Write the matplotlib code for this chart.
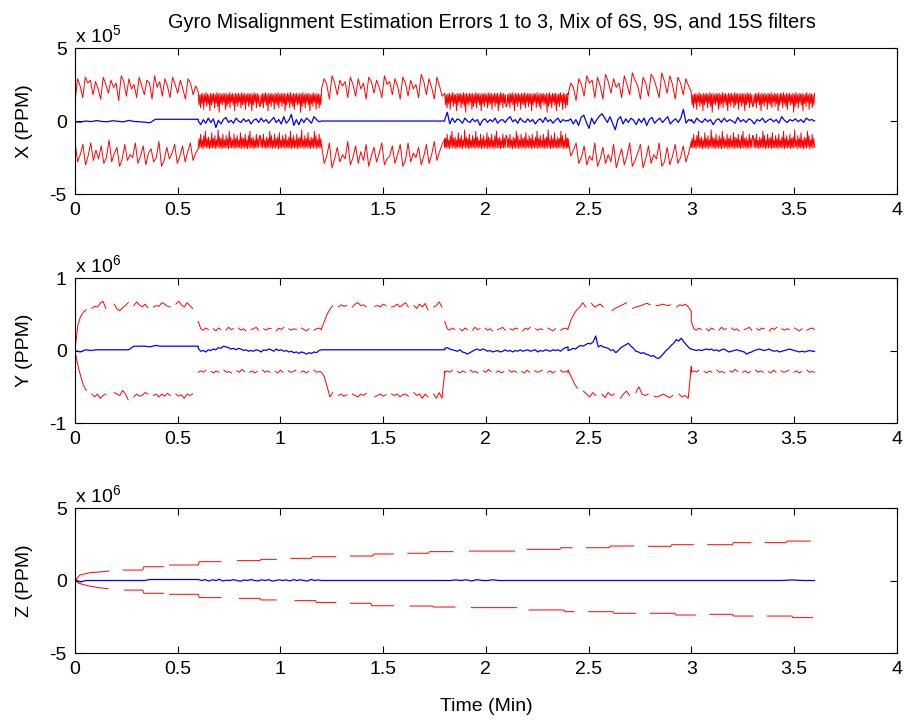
import numpy as np
import matplotlib
matplotlib.use('Agg')
import matplotlib.pyplot as plt

nan = np.nan

# segment edges (min): filters switch every 0.6 min
seg_edges = [0.0, 0.6, 1.2, 1.8, 2.4, 3.0, 3.6]

# ---------------- X axis error, units of 1e5 PPM ----------------
x_saw_up_a = [1.3, 2.9, 2.4, 1.6, 3.0, 2.6, 2.8, 1.8, 2.7, 2.2, 1.5, 3.0, 2.5, 1.9, 2.8, 2.3, 2.6,
              1.4, 3.1, 2.7, 1.7, 2.9, 2.2, 2.5, 1.6, 3.0, 2.4, 1.8, 2.8, 2.6, 1.5, 3.1, 2.3, 2.7,
              1.7, 2.9, 2.4, 1.6, 3.0, 2.5, 1.9, 2.8, 2.2, 1.5, 2.9, 2.6, 1.8, 2.4, 2.0]
x_saw_lo_a = [-1.4, -2.8, -2.3, -1.6, -3.0, -2.4, -1.5, -2.7, -2.0, -2.6, -1.7, -2.9, -2.5, -1.3,
              -2.8, -2.2, -1.8, -3.1, -2.6, -1.6, -2.7, -2.3, -2.5, -1.5, -2.9, -2.4, -1.7, -3.0,
              -2.2, -1.9, -2.8, -2.5, -1.4, -3.1, -2.7, -1.8, -2.6, -2.2, -1.6, -2.9, -2.4, -1.7,
              -2.8, -2.1, -1.5, -2.7, -2.2, -1.9]
x_saw_up_b = [2.2, 2.9, 2.5, 1.5, 3.1, 2.6, 1.8, 2.8, 2.4, 2.7, 1.6, 3.0, 2.5, 1.7, 2.9, 2.2, 2.6,
              1.5, 3.0, 2.7, 1.9, 2.8, 2.3, 1.6, 3.1, 2.5, 2.7, 1.8, 2.9, 2.4, 1.5, 3.0, 2.6, 1.7,
              2.8, 2.2, 2.5, 1.6, 3.2, 2.7, 1.8, 2.9, 2.3, 1.5, 3.0, 2.4, 1.7, 1.9]
x_saw_lo_b = [-1.6, -2.9, -2.4, -1.5, -3.2, -2.6, -1.8, -2.8, -2.3, -2.6, -1.4, -3.0, -2.5, -1.7,
              -2.9, -2.1, -2.7, -1.6, -3.1, -2.4, -1.8, -2.8, -2.2, -1.5, -3.0, -2.6, -2.4, -1.7,
              -2.9, -2.3, -1.6, -3.1, -2.7, -1.5, -2.8, -2.2, -2.5, -1.8, -3.0, -2.4, -1.6, -2.9,
              -2.3, -1.4, -2.7, -2.1, -1.6, -1.2]
x_saw_up_c = [1.8, 2.6, 2.3, 1.4, 2.9, 2.5, 1.7, 3.1, 2.6, 2.8, 1.6, 3.0, 2.4, 1.5, 3.2, 2.7, 1.9,
              2.9, 2.3, 2.6, 1.6, 3.1, 2.5, 1.8, 3.3, 2.8, 2.4, 1.5, 3.0, 2.6, 1.7, 3.2, 2.9, 2.3,
              1.6, 3.3, 2.7, 1.9, 3.1, 2.5, 1.5, 3.0, 2.6, 1.8, 2.9, 2.4, 2.0]
x_saw_lo_c = [-1.2, -2.4, -2.0, -1.5, -2.9, -2.5, -1.7, -3.0, -2.4, -2.7, -1.5, -3.1, -2.6, -1.8,
              -2.9, -2.3, -2.8, -1.6, -3.2, -2.5, -1.9, -3.0, -2.4, -1.5, -3.1, -2.7, -2.2, -1.6,
              -3.2, -2.6, -1.7, -2.9, -2.3, -2.6, -1.5, -3.1, -2.8, -1.8, -3.0, -2.4, -1.6, -2.9,
              -2.5, -1.7, -2.8, -2.2, -1.4]
x_band_up = [1.9, 1.1, 1.8, 0.9, 1.85, 1.2, 1.9, 0.8, 1.8, 1.3, 1.95, 1.0, 1.85, 1.2, 1.8, 0.7,
             1.9, 1.1, 1.85, 1.3, 1.9, 0.9, 1.8, 1.2, 1.95, 1.0, 1.85, 0.6, 1.9, 1.2, 1.8, 1.1,
             1.9, 1.3, 1.85, 0.8, 1.9, 1.0, 1.8, 1.2, 1.95, 0.9, 1.85, 1.3, 1.9, 1.1, 1.8, 0.7,
             1.9, 1.2, 1.85, 1.0, 1.9, 1.3, 1.8, 0.9, 1.95, 1.1, 1.85, 1.2, 1.9, 0.8, 1.8, 1.3,
             1.9, 1.0, 1.85, 1.2, 1.9, 0.7, 1.8, 1.1, 1.95, 1.3, 1.85, 0.9, 1.9, 1.2, 1.8, 1.0]
x_band_lo = [-1.8, -1.2, -1.85, -0.9, -1.8, -1.3, -1.9, -1.0, -1.75, -0.7, -1.85, -1.2, -1.8,
             -1.1, -1.9, -1.3, -1.8, -0.8, -1.85, -1.2, -1.8, -1.0, -1.9, -1.3, -1.75, -0.6,
             -1.85, -1.1, -1.8, -1.2, -1.9, -0.9, -1.8, -1.3, -1.85, -1.0, -1.8, -1.2, -1.9,
             -0.7, -1.8, -1.1, -1.85, -1.3, -1.8, -0.9, -1.9, -1.2, -1.8, -1.0, -1.85, -1.3,
             -1.8, -0.8, -1.9, -1.1, -1.8, -1.2, -1.85, -0.9, -1.8, -1.3, -1.9, -1.0, -1.8,
             -0.7, -1.85, -1.2, -1.8, -1.1, -1.9, -1.3, -1.8, -0.9, -1.85, -1.2, -1.8, -1.0]
x_est_a = [-0.05, -0.08, 0.0, -0.04, 0.03, -0.03, -0.05, 0.02, -0.02, -0.06, 0.04, -0.03, -0.05,
           -0.08, -0.12, 0.12, 0.12, 0.12, 0.12, 0.12, 0.12, 0.12, 0.12, 0.12]
x_est_b = [0.0, -0.25, 0.1, -0.15, 0.2, -0.1, 0.15, -0.45, 0.05, -0.2, 0.1, 0.25, -0.1, 0.05,
           -0.15, 0.2, 0.0, -0.1, 0.15, -0.05, 0.1, -0.2, 0.05, 0.15, -0.1, 0.2, -0.05, 0.1,
           -0.15, 0.05, 0.25, -0.1, 0.1, -0.2, 0.3, -0.15, 0.05, 0.45, -0.3, 0.1, -0.25, 0.15,
           -0.1, 0.2, 0.05, -0.15, 0.3, 0.1, -0.05, 0.0]
x_est_c = [0.0, 0.0]
x_est_d = [0.1, 0.6, -0.2, 0.2, -0.1, 0.15, 0.05, -0.15, 0.2, 0.0, -0.1, 0.15, -0.05, 0.1, -0.3,
           0.05, 0.15, -0.1, 0.1, -0.05, 0.2, -0.15, 0.05, 0.1, -0.1, 0.15, 0.3, -0.05, 0.1,
           -0.15, 0.2, 0.0, -0.1, 0.15, -0.05, 0.1, -0.2, 0.05, 0.15, -0.1, 0.25, -0.05, 0.1,
           -0.15, 0.05, 0.2, -0.1, 0.1, 0.0, 0.05]
x_est_e = [0.0, 0.15, -0.2, 0.1, -0.3, 0.25, 0.4, -0.1, -0.5, 0.2, -0.2, 0.1, 0.35, 0.5, 0.2,
           -0.1, 0.3, -0.15, -0.6, 0.1, 0.3, -0.2, 0.15, -0.1, 0.2, 0.05, -0.25, 0.15, -0.1, 0.2,
           -0.3, 0.1, 0.25, -0.15, 0.05, 0.2, -0.1, 0.1, 0.3, -0.2, 0.0, 0.15, -0.1, 0.2, 0.8,
           -0.15, 0.1, 0.0]
x_est_f = [0.1, -0.15, 0.2, 0.0, -0.1, 0.15, -0.05, 0.1, -0.25, 0.05, 0.15, -0.1, 0.2, -0.05,
           0.1, 0.0, -0.15, 0.25, -0.05, 0.1, -0.1, 0.15, 0.05, -0.2, 0.1, 0.0, 0.2, -0.1, 0.05,
           0.15, -0.05, 0.1, -0.15, 0.3, 0.05, -0.1, 0.1, 0.0, 0.15, -0.05, 0.1, -0.1, 0.2, 0.05,
           0.1, 0.0]

# ---------------- Y axis error, units of 1e6 PPM (nan = gap) ----------------
y_up_a = [0.0, 0.35, 0.47, 0.53, 0.56, nan, 0.58, 0.61, 0.6, 0.65, 0.68, 0.58, nan, nan, 0.64,
          0.57, 0.55, 0.59, 0.62, 0.66, nan, 0.62, 0.67, 0.63, 0.6, 0.64, 0.59, nan, 0.6, 0.62,
          0.61, 0.66, 0.64, 0.61, 0.6, nan, 0.64, 0.68, 0.63, 0.6, 0.66, 0.62, 0.58, nan, nan]
y_lo_a = [0.0, -0.2, -0.35, -0.48, -0.55, nan, -0.6, -0.64, -0.6, -0.66, -0.62, -0.6, nan, nan,
          -0.58, -0.6, -0.62, -0.55, -0.6, -0.68, nan, -0.64, -0.6, -0.63, -0.62, -0.58, -0.6,
          nan, -0.62, -0.6, -0.64, -0.6, -0.63, -0.59, -0.62, nan, -0.6, -0.63, -0.61, -0.66,
          -0.6, -0.62, -0.6, nan, nan]
y_band_up = [0.4, 0.3, 0.28, 0.31, 0.29, nan, 0.3, 0.27, 0.31, 0.29, nan, 0.28, 0.32, 0.29, 0.3,
             nan, 0.31, 0.28, 0.3, 0.27, nan, 0.29, 0.3, 0.32, 0.28, nan, 0.3, 0.28, 0.31, 0.3,
             nan, 0.27, 0.31, 0.29, 0.32, nan, 0.3, 0.28, 0.3, 0.29, nan, 0.31, 0.29, 0.27, 0.3,
             nan, 0.28, 0.3, 0.31, 0.29]
y_band_lo = [-0.3, -0.28, -0.3, -0.27, nan, -0.29, -0.31, -0.28, -0.3, nan, -0.27, -0.3, -0.29,
             -0.31, nan, -0.28, -0.3, -0.26, -0.29, nan, -0.3, -0.28, -0.31, -0.29, nan, -0.27,
             -0.3, -0.28, -0.3, nan, -0.29, -0.31, -0.27, -0.3, nan, -0.28, -0.3, -0.29, -0.27,
             nan, -0.3, -0.28, -0.31, -0.29, nan, -0.27, -0.3, -0.29, -0.3]
y_up_c = [0.3, 0.4, 0.5, 0.57, 0.62, nan, 0.6, 0.63, 0.61, 0.62, nan, 0.6, 0.64, 0.66, 0.62,
          0.63, 0.6, nan, nan, 0.61, 0.62, 0.6, 0.64, 0.62, nan, 0.6, 0.61, 0.64, 0.6, 0.63,
          0.66, 0.6, nan, 0.62, 0.58, 0.64, 0.6, 0.65, 0.56, nan, 0.6, 0.62, 0.67, 0.6, nan]
y_lo_c = [-0.3, -0.36, -0.5, -0.64, -0.58, nan, -0.62, -0.6, -0.63, -0.61, nan, -0.6, -0.62,
          -0.64, -0.6, -0.62, -0.59, nan, nan, -0.64, -0.62, -0.6, -0.63, -0.61, nan, -0.6,
          -0.62, -0.6, -0.64, -0.61, -0.6, -0.63, nan, -0.58, -0.62, -0.6, -0.66, -0.6, -0.64,
          nan, -0.6, -0.66, -0.58, -0.66, -0.29]
y_up_e = [0.3, 0.42, 0.5, 0.56, 0.6, 0.66, 0.6, nan, 0.65, 0.6, 0.62, 0.64, 0.6, nan, nan, 0.55,
          0.58, 0.6, 0.62, 0.64, 0.66, nan, 0.58, 0.6, 0.61, 0.62, 0.64, 0.65, 0.63, nan, 0.62,
          0.62, 0.64, 0.63, 0.62, 0.63, nan, 0.6, 0.63, 0.62, 0.64, 0.6, 0.54]
y_lo_e = [-0.27, -0.36, -0.45, -0.52, nan, -0.56, -0.6, -0.64, -0.58, -0.62, nan, -0.6, -0.65,
          -0.58, -0.62, -0.6, nan, -0.66, -0.6, -0.56, -0.62, nan, -0.58, -0.5, -0.6, -0.62,
          -0.6, nan, -0.63, -0.64, -0.62, -0.6, -0.63, -0.65, -0.62, nan, -0.6, -0.64, -0.62,
          -0.66, -0.22]
y_est_a = [0.0, -0.02, 0.01, 0.0, 0.01, 0.01, 0.01, 0.01, 0.01, 0.01, 0.01, 0.06, 0.06, 0.06,
           0.05, 0.07, 0.06, 0.06, 0.06, 0.06, 0.06, 0.06, 0.06, 0.06]
y_est_b = [0.03, -0.01, 0.0, -0.02, 0.01, 0.0, 0.02, 0.01, 0.04, 0.03, 0.06, 0.05, 0.04, 0.02,
           0.03, 0.01, 0.03, 0.02, 0.0, 0.01, -0.01, 0.0, -0.01, 0.01, 0.0, -0.02, 0.01, 0.0,
           0.02, 0.01, -0.01, 0.02, 0.0, 0.01, -0.01, 0.0, -0.02, -0.01, -0.03, -0.02, -0.04,
           -0.02, -0.03, -0.05, -0.03, -0.04, -0.02, -0.03, 0.0, 0.01]
y_est_c = [0.01, 0.01]
y_est_d = [0.03, 0.04, 0.02, 0.01, 0.0, -0.01, 0.01, -0.02, -0.03, -0.05, -0.03, -0.01, 0.01,
           0.02, 0.0, 0.02, 0.01, -0.01, 0.0, -0.02, -0.01, 0.0, -0.02, -0.01, 0.01, -0.01, 0.0,
           -0.02, 0.0, -0.01, 0.01, -0.01, 0.0, 0.01, -0.01, 0.0, 0.01, -0.02, 0.0, -0.01, 0.01,
           0.0, -0.01, 0.01, 0.0, 0.01, -0.01, 0.02, 0.04, 0.05]
y_est_e = [0.0, 0.01, 0.03, 0.02, 0.05, 0.07, 0.06, 0.08, 0.1, 0.09, 0.12, 0.2, 0.05, 0.07, 0.05,
           0.04, 0.03, 0.0, 0.01, -0.03, 0.0, 0.04, 0.06, 0.08, 0.1, 0.06, 0.03, -0.01, -0.02,
           -0.04, -0.03, -0.05, -0.06, -0.08, -0.07, -0.1, -0.11, -0.08, -0.04, 0.0, 0.03, 0.07,
           0.1, 0.15, 0.13, 0.17, 0.12, 0.08, 0.04, 0.02]
y_est_f = [0.02, 0.01, 0.0, 0.01, 0.0, 0.01, 0.02, 0.01, 0.02, 0.0, 0.01, -0.01, 0.01, 0.02, 0.0,
           -0.02, -0.01, 0.0, 0.01, 0.0, -0.01, -0.02, -0.05, -0.03, -0.02, 0.0, 0.01, 0.02, 0.01,
           0.0, 0.01, 0.02, 0.0, -0.01, 0.0, -0.02, -0.01, 0.0, 0.01, 0.02, 0.01, 0.0, -0.01,
           -0.02, -0.01, -0.02, -0.01, 0.0, -0.01, -0.01]

# ---------------- Z axis error, units of 1e6 PPM (nan = gap) ----------------
z_up_t = [0, 0.024, 0.073, 0.138, 0.165, nan, 0.235, 0.33, 0.335, 0.43, nan, 0.46, 0.6, 0.605, 0.71,
          nan, 0.79, 0.9, 0.905, 0.98, nan, 1.05, 1.15, 1.155, 1.27, nan, 1.34, 1.45, 1.455, 1.55,
          nan, 1.62, 1.72, 1.725, 1.84, nan, 1.92, 2.14, nan, 2.2, 2.36, 2.365, 2.42, nan, 2.49,
          2.6, 2.605, 2.72, nan, 2.79, 2.9, 2.905, 3.01, nan, 3.08, 3.2, 3.205, 3.29, nan, 3.36,
          3.46, 3.465, 3.58]
z_up = [0, 0.38, 0.54, 0.61, 0.66, nan, 0.72, 0.72, 0.95, 0.95, nan, 1.07, 1.07, 1.3, 1.3, nan,
        1.37, 1.37, 1.46, 1.46, nan, 1.53, 1.53, 1.64, 1.64, nan, 1.69, 1.69, 1.83, 1.83, nan, 1.88,
        1.88, 1.99, 1.99, nan, 2.03, 2.03, nan, 2.15, 2.15, 2.26, 2.26, nan, 2.26, 2.26, 2.38, 2.38,
        nan, 2.36, 2.36, 2.47, 2.47, nan, 2.47, 2.47, 2.61, 2.61, nan, 2.61, 2.61, 2.72, 2.72]
z_lo_t = [0, 0.02, 0.06, 0.11, 0.16, nan, 0.24, 0.33, 0.335, 0.43, nan, 0.46, 0.6, 0.605, 0.71,
          nan, 0.8, 0.9, 0.905, 0.98, nan, 1.07, 1.17, 1.175, 1.27, nan, 1.34, 1.44, 1.445, 1.55,
          nan, 1.63, 1.74, 1.745, 1.85, nan, 1.93, 2.15, nan, 2.21, 2.38, 2.385, 2.43, nan, 2.5,
          2.62, 2.625, 2.73, nan, 2.8, 2.92, 2.925, 3.02, nan, 3.09, 3.2, 3.205, 3.3, nan, 3.37,
          3.49, 3.495, 3.59]
z_lo = [0, -0.2, -0.35, -0.48, -0.56, nan, -0.66, -0.66, -0.88, -0.88, nan, -0.95, -0.95, -1.18,
        -1.18, nan, -1.23, -1.23, -1.34, -1.34, nan, -1.39, -1.39, -1.51, -1.51, nan, -1.57, -1.57,
        -1.74, -1.74, nan, -1.76, -1.76, -1.83, -1.83, nan, -1.87, -1.87, nan, -2.03, -2.03, -2.15,
        -2.15, nan, -2.15, -2.15, -2.26, -2.26, nan, -2.26, -2.26, -2.38, -2.38, nan, -2.33, -2.33,
        -2.45, -2.45, nan, -2.45, -2.45, -2.56, -2.56]
z_est_a = [0.05, -0.1, 0.0, 0.0, 0.0, 0.0, 0.0, 0.0, 0.0, 0.0, 0.0, 0.0, 0.0, 0.0, 0.07, 0.07,
           0.07, 0.07, 0.07, 0.07, 0.07, 0.07, 0.07, 0.07]
z_est_b = [0.07, 0.0, 0.06, -0.04, 0.05, 0.0, 0.08, -0.03, 0.02, 0.0, 0.06, 0.0, -0.05, 0.04,
           0.0, 0.07, 0.0, -0.03, 0.05, 0.0, 0.06, -0.04, 0.0, 0.05, 0.0, 0.04, -0.03, 0.06, 0.0,
           0.05, 0.0, -0.04, 0.07, 0.0, 0.04, 0.0]
z_est_c = [0.0, 0.0]
z_est_d = [0.0, 0.0, 0.04, 0.0, 0.05, -0.03, 0.06, 0.0, 0.0, 0.05, 0.0, 0.0, 0.0, 0.0, 0.0, 0.0,
           0.0, 0.0, 0.0, 0.0, 0.0, 0.0, 0.0, 0.0]
z_est_e = [0.0, 0.0]
z_est_f = [0.0, 0.0, 0.0, 0.0, 0.0, 0.0, 0.0, 0.0, 0.0, 0.04, 0.0, 0.0]


def build(parts):
    # place each segment's samples evenly across its 0.6 min slot
    ts, vs = [], []
    for i, vals in enumerate(parts):
        ts.append(np.linspace(seg_edges[i], seg_edges[i + 1], len(vals)))
        vs.append(np.asarray(vals, dtype=float))
    return np.concatenate(ts), np.concatenate(vs)


plt.rcParams['font.family'] = ['Liberation Sans', 'DejaVu Sans']
plt.rcParams['axes.unicode_minus'] = False
plt.rcParams['mathtext.default'] = 'regular'

fig = plt.figure(figsize=(9.09, 7.21), dpi=100)
fig.patch.set_facecolor('white')

ax_pos = [[0.0825, 0.7309, 0.904, 0.2025],
          [0.0825, 0.4133, 0.904, 0.2011],
          [0.0825, 0.0943, 0.904, 0.2011]]

red_lw = 0.7
blue_lw = 0.9

# X
band_up = x_band_up + x_band_up[::-1]
band_lo = x_band_lo + x_band_lo[::-1]
ax1 = fig.add_axes(ax_pos[0])
t, v = build([x_saw_up_a, band_up, x_saw_up_b, band_up[::-1], x_saw_up_c, band_up])
ax1.plot(t, v, color='#ff0000', lw=red_lw)
t, v = build([x_saw_lo_a, band_lo, x_saw_lo_b, band_lo[::-1], x_saw_lo_c, band_lo])
ax1.plot(t, v, color='#ff0000', lw=red_lw)
t, v = build([x_est_a, x_est_b, x_est_c, x_est_d, x_est_e, x_est_f])
ax1.plot(t, v, color='#0000ff', lw=blue_lw)
ax1.set_ylim(-5, 5)
ax1.set_yticks([-5, 0, 5])
ax1.set_ylabel('X (PPM)', labelpad=12)
ax1.text(0.0, 1.015, r'x 10$^{5}$', transform=ax1.transAxes, fontsize=14, va='bottom')

# Y
ax2 = fig.add_axes(ax_pos[1])
t, v = build([y_up_a, y_band_up, y_up_c, y_band_up, y_up_e, y_band_up])
ax2.plot(t, v, color='#ff0000', lw=red_lw)
t, v = build([y_lo_a, y_band_lo, y_lo_c, y_band_lo, y_lo_e, y_band_lo])
ax2.plot(t, v, color='#ff0000', lw=red_lw)
t, v = build([y_est_a, y_est_b, y_est_c, y_est_d, y_est_e, y_est_f])
ax2.plot(t, v, color='#0000ff', lw=blue_lw)
ax2.set_ylim(-1, 1)
ax2.set_yticks([-1, 0, 1])
ax2.set_ylabel('Y (PPM)', labelpad=12)
ax2.text(0.0, 1.015, r'x 10$^{6}$', transform=ax2.transAxes, fontsize=14, va='bottom')

# Z
ax3 = fig.add_axes(ax_pos[2])
ax3.plot(z_up_t, z_up, color='#ff0000', lw=red_lw)
ax3.plot(z_lo_t, z_lo, color='#ff0000', lw=red_lw)
t, v = build([z_est_a, z_est_b, z_est_c, z_est_d, z_est_e, z_est_f])
ax3.plot(t, v, color='#0000ff', lw=blue_lw)
ax3.set_ylim(-5, 5)
ax3.set_yticks([-5, 0, 5])
ax3.set_ylabel('Z (PPM)', labelpad=12)
ax3.set_xlabel('Time (Min)', labelpad=14)
ax3.text(0.0, 1.015, r'x 10$^{6}$', transform=ax3.transAxes, fontsize=14, va='bottom')

for ax in (ax1, ax2, ax3):
    ax.set_xlim(0, 4)
    ax.set_xticks([0, 0.5, 1, 1.5, 2, 2.5, 3, 3.5, 4])
    ax.set_xticklabels(['0', '0.5', '1', '1.5', '2', '2.5', '3', '3.5', '4'])
    ax.tick_params(direction='in', top=True, right=True, length=5, width=0.8,
                   labelsize=14, pad=6)
    ax.yaxis.label.set_size(14)
    ax.xaxis.label.set_size(14)
    for s in ax.spines.values():
        s.set_linewidth(0.8)

fig.text(0.541, 0.969, 'Gyro Misalignment Estimation Errors 1 to 3, Mix of 6S, 9S, and 15S filters',
         ha='center', va='center', fontsize=14.3)

fig.savefig('out.png', dpi=100)
